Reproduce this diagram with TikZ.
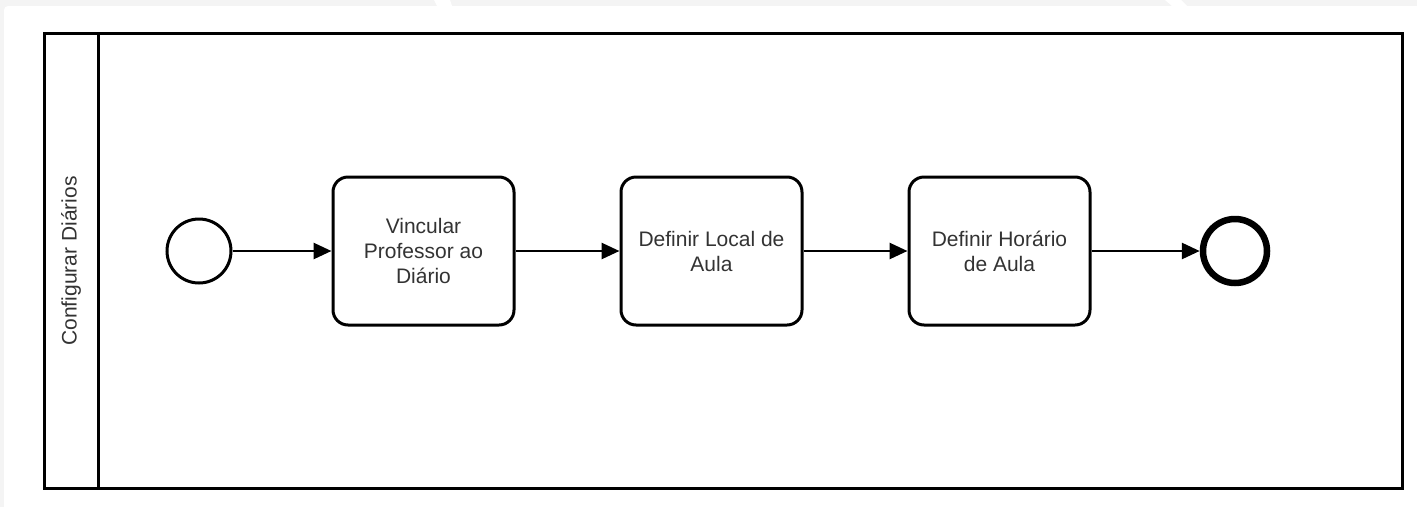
\documentclass[tikz,border=0pt]{standalone}
\usepackage{fontspec}
\setmainfont{Liberation Sans}
\usetikzlibrary{arrows.meta}
\definecolor{bggray}{HTML}{F4F4F4}
\definecolor{txt}{HTML}{333333}
\tikzset{
  task/.style={draw, line width=3pt, rounded corners=15pt, minimum width=181pt, minimum height=148pt, align=center, font=\fontsize{21}{25}\selectfont, text=txt, inner sep=0pt},
  startev/.style={draw, circle, line width=3pt, minimum size=64pt, inner sep=0pt},
  endev/.style={draw, circle, line width=6.5pt, minimum size=64pt, inner sep=0pt},
  flow/.style={line width=2.8pt, -{Triangle[length=18pt,width=16pt]}},
  pool/.style={draw, line width=3pt}
}
\begin{document}
\begin{tikzpicture}[x=1pt,y=-1pt]
\useasboundingbox (0,0) rectangle (1417,507);
\fill[bggray] (0,0) rectangle (1417,507);
\fill[white, rounded corners=4pt] (4,6) rectangle (1425,515);
\fill[white] (434,0) -- (450,0) -- (452,6) -- (437,6) -- cycle;
\fill[white] (1165,0) -- (1181,0) -- (1187,6) -- (1172,6) -- cycle;
% pool and lane
\draw[pool] (44,33) rectangle (1402,488);
\draw[pool] (98,33) -- (98,488);
\node[rotate=90, font=\fontsize{21}{25}\selectfont, text=txt] (lane) at (71,261) {Configurar Diários};
% events and tasks
\node[startev] (s) at (199,251) {};
\node[task] (t1) at (423.5,251) {Vincular\\Professor ao\\Diário};
\node[task] (t2) at (711.5,251) {Definir Local de\\Aula};
\node[task] (t3) at (999.5,251) {Definir Horário\\de Aula};
\node[endev] (e) at (1235,251) {};
% flows
\draw[flow] (s) -- (t1);
\draw[flow] (t1) -- (t2);
\draw[flow] (t2) -- (t3);
\draw[flow] (t3) -- (e);
\end{tikzpicture}
\end{document}
